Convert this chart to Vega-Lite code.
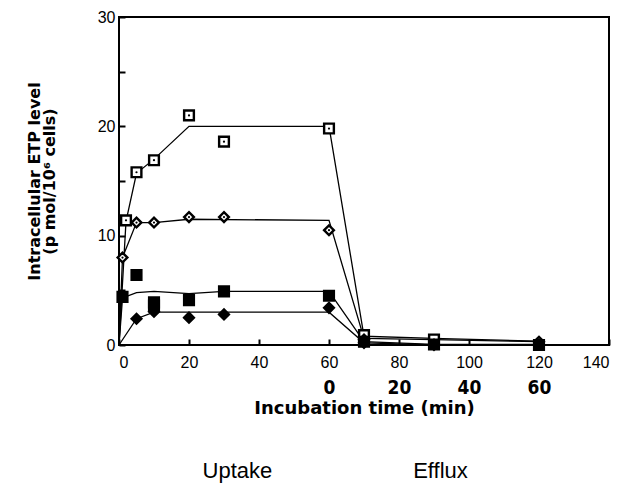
{
"$schema": "https://vega.github.io/schema/vega-lite/v6.json",
"width": 490, "height": 328,
"autosize": {"type": "none"},
"padding": {"left": 119, "top": 17, "right": 20, "bottom": 141},
"background": "white",
"config": {"view": {"stroke": "black", "strokeWidth": 2}, "font": "Liberation Sans"},
"datasets": {
 "fit": [
  {"s":"A","t":0,"v":0},{"s":"A","t":2,"v":11.3},{"s":"A","t":5,"v":15.7},{"s":"A","t":10,"v":17.0},{"s":"A","t":20,"v":20.0},{"s":"A","t":60,"v":20.0},{"s":"A","t":70,"v":0.8},{"s":"A","t":90,"v":0.6},{"s":"A","t":120,"v":0.35},
  {"s":"B","t":0,"v":0},{"s":"B","t":1,"v":8.0},{"s":"B","t":5,"v":11.2},{"s":"B","t":10,"v":11.2},{"s":"B","t":20,"v":11.5},{"s":"B","t":60,"v":11.4},{"s":"B","t":70,"v":0.6},{"s":"B","t":90,"v":0.5},{"s":"B","t":120,"v":0.3},
  {"s":"C","t":0,"v":0},{"s":"C","t":1,"v":4.3},{"s":"C","t":5,"v":4.8},{"s":"C","t":10,"v":4.9},{"s":"C","t":20,"v":4.7},{"s":"C","t":30,"v":4.9},{"s":"C","t":60,"v":4.9},{"s":"C","t":70,"v":0.3},{"s":"C","t":90,"v":0.05},{"s":"C","t":120,"v":0.05},
  {"s":"D","t":0,"v":0},{"s":"D","t":5,"v":2.4},{"s":"D","t":10,"v":3.0},{"s":"D","t":60,"v":3.0},{"s":"D","t":70,"v":0.2},{"s":"D","t":90,"v":0.02},{"s":"D","t":120,"v":0.02}
 ],
 "pts": [
  {"s":"A","t":2,"v":11.4},{"s":"A","t":5,"v":15.8},{"s":"A","t":10,"v":16.9},{"s":"A","t":20,"v":21.0},{"s":"A","t":30,"v":18.6},{"s":"A","t":60,"v":19.8},{"s":"A","t":70,"v":0.9},{"s":"A","t":90,"v":0.5},
  {"s":"B","t":1,"v":8.0},{"s":"B","t":5,"v":11.2},{"s":"B","t":10,"v":11.2},{"s":"B","t":20,"v":11.7},{"s":"B","t":30,"v":11.7},{"s":"B","t":60,"v":10.5},{"s":"B","t":70,"v":0.5},{"s":"B","t":120,"v":0.3},
  {"s":"C","t":1,"v":4.4},{"s":"C","t":5,"v":6.4},{"s":"C","t":10,"v":3.9},{"s":"C","t":10,"v":3.6},{"s":"C","t":20,"v":4.1},{"s":"C","t":30,"v":4.9},{"s":"C","t":60,"v":4.5},{"s":"C","t":70,"v":0.3},{"s":"C","t":90,"v":0.05},{"s":"C","t":120,"v":0.0},
  {"s":"D","t":5,"v":2.4},{"s":"D","t":10,"v":3.05},{"s":"D","t":20,"v":2.5},{"s":"D","t":30,"v":2.8},{"s":"D","t":60,"v":3.4},{"s":"D","t":70,"v":0.2},{"s":"D","t":90,"v":0.0}
 ],
 "eff": [{"t":0},{"t":20},{"t":40},{"t":60}],
 "phase": [{"p":"Uptake","x":33.7},{"p":"Efflux","x":91.7}]
},
"resolve": {"scale": {"x": "independent"}},
"layer": [
 {
  "encoding": {
   "x": {"field":"t","type":"quantitative","scale":{"domain":[0,140]},
     "axis":{"orient":"bottom","values":[0,20,40,60,80,100,120,140],"tickSize":-6,"tickWidth":2,"tickColor":"black","domain":false,"grid":false,
       "labelFont":"Liberation Sans","labelFontSize":16,"labelColor":"black","labelPadding":15,"title":null}},
   "y": {"field":"v","type":"quantitative","scale":{"domain":[0,30]},
     "axis":{"values":[0,5,10,15,20,25,30],"labelExpr":"datum.value % 10 == 0 ? datum.label : ''","tickSize":-6,"tickWidth":2,"tickColor":"black","domain":false,"grid":false,
       "labelFont":"Liberation Sans","labelFontSize":16,"labelColor":"black","labelPadding":10,
       "title":["Intracellular ETP level","(p mol/10⁶ cells)"],"titleFont":"DejaVu Sans","titleFontSize":16,"titleFontWeight":"bold","titleColor":"black","titlePadding":40,"titleLineHeight":15}}
  },
  "layer": [
   {"data":{"name":"fit"},"mark":{"type":"line","color":"black","strokeWidth":1.3},"encoding":{"detail":{"field":"s"}}},
   {"data":{"name":"pts"},"mark":{"type":"point","filled":false,"stroke":"black","strokeWidth":2.4,"opacity":1,"size":95},
    "encoding":{
     "shape":{"field":"s","type":"nominal","scale":{"domain":["A","B","C","D"],"range":["square","diamond","square","diamond"]},"legend":null},
     "fill":{"field":"s","type":"nominal","scale":{"domain":["A","B","C","D"],"range":["white","white","black","black"]},"legend":null}
    }},
   {"data":{"name":"pts"},"transform":[{"filter":"datum.s == 'A' || datum.s == 'B'"}],
    "mark":{"type":"point","filled":true,"color":"black","size":5,"opacity":1}}
  ]
 },
 {
  "data":{"name":"eff"},
  "mark":{"type":"rule","opacity":0},
  "encoding":{"x":{"field":"t","type":"quantitative","scale":{"domain":[-60,80]},
    "axis":{"orient":"bottom","values":[0,20,40,60],"offset":31,"domain":false,"ticks":false,"grid":false,
      "labelFont":"DejaVu Sans Condensed","labelFontWeight":"bold","labelFontSize":19,"labelColor":"black","labelPadding":2,
      "title":"Incubation time (min)","titleFont":"DejaVu Sans","titleFontSize":18,"titleFontWeight":"bold","titleColor":"black","titlePadding":2}}}
 },
 {
  "data":{"name":"phase"},
  "mark":{"type":"rule","opacity":0},
  "encoding":{"x":{"field":"x","type":"quantitative","scale":{"domain":[0,140]},
    "axis":{"orient":"bottom","values":[33.7,91.7],"labelExpr":"datum.value < 60 ? 'Uptake' : 'Efflux'","offset":110,"domain":false,"ticks":false,"grid":false,
      "labelFont":"Liberation Sans","labelFontSize":22,"labelColor":"black","labelPadding":5,"title":null}}}
 }
]
}
